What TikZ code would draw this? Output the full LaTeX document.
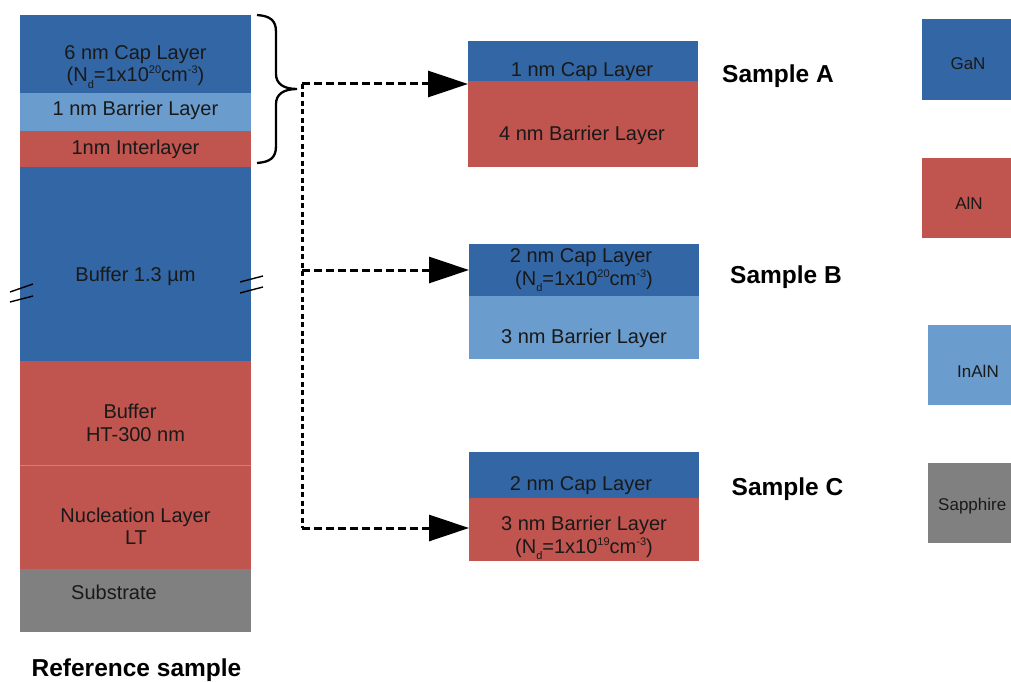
\documentclass[tikz,border=0pt]{standalone}
\usepackage{fontspec}
\setmainfont{Liberation Sans}
\usetikzlibrary{arrows.meta}
\definecolor{gan}{RGB}{51,102,165}
\definecolor{inaln}{RGB}{106,156,206}
\definecolor{aln}{RGB}{192,84,78}
\definecolor{sapph}{RGB}{128,128,128}
\newcommand{\lowd}{\raisebox{-6pt}{\fontsize{11}{11}\selectfont d}}
\newcommand{\hisup}[1]{\raisebox{8pt}{\fontsize{11}{11}\selectfont #1}}
\begin{document}
\begin{tikzpicture}[x=1pt,y=-1pt,
  layer/.style={rectangle, inner sep=0pt, outer sep=0pt, anchor=north west},
  lbl/.style={font=\fontsize{20}{22}\selectfont, inner sep=0pt, anchor=base, text=black!90},
  leg/.style={font=\fontsize{17}{20}\selectfont, inner sep=0pt, anchor=base, text=black!90},
  slbl/.style={font=\fontsize{24.5}{28}\selectfont\bfseries, inner sep=0pt, anchor=base},
  link/.style={line width=3pt, dash pattern=on 8pt off 4pt},
  vlink/.style={line width=3pt, dash pattern=on 5pt off 3.5pt},
  tip/.style={-{Triangle[length=40pt,width=26pt]}},
  brk/.style={line width=1.4pt}]
\useasboundingbox (0,0) rectangle (1011,682);
% ---------- reference sample ----------
\node[layer, fill=gan,   minimum width=231, minimum height=78]  (lcap) at (20,15) {};
\node[layer, fill=inaln, minimum width=231, minimum height=38]  (lbar) at (20,93) {};
\node[layer, fill=aln,   minimum width=231, minimum height=36]  (lint) at (20,131) {};
\node[layer, fill=gan,   minimum width=231, minimum height=194] (lbuf) at (20,167) {};
\node[layer, fill=aln,   minimum width=231, minimum height=104] (lht)  at (20,361) {};
\node[layer, fill=aln,   minimum width=231, minimum height=104] (lnuc) at (20,465) {};
\node[layer, fill=sapph, minimum width=231, minimum height=63]  (lsub) at (20,569) {};
\draw[aln!75!white, line width=0.8pt] (lnuc.north west) -- (lnuc.north east);
\node[lbl] (tcap1) at (135.5,60) {6 nm Cap Layer};
\node[lbl] (tcap2) at (135.5,82) {(N\lowd=1x10\hisup{20}cm\hisup{-3})};
\node[lbl] (tbar) at (135.5,116) {1 nm Barrier Layer};
\node[lbl] (tint) at (135.5,154) {1nm Interlayer};
\node[lbl] (tbuf) at (135.5,281) {Buffer 1.3 µm};
\node[lbl] (tht1) at (130,418) {Buffer};
\node[lbl] (tht2) at (135.5,441) {HT-300 nm};
\node[lbl] (tnuc1) at (135.5,522) {Nucleation Layer};
\node[lbl] (tnuc2) at (136,544) {LT};
\node[lbl] (tsub) at (114,599) {Substrate};
\node[slbl] (tref) at (136.5,676) {Reference sample};
% break marks
\draw[brk] (10,292) -- (33,284);
\draw[brk] (10,302) -- (33,296);
\draw[brk] (240,282) -- (263,276);
\draw[brk] (240,293) -- (263,287);
% brace
\coordinate (bt) at (257,15);
\coordinate (bb) at (257,163);
\coordinate (bp) at (297,89);
\draw[line width=2.3pt] (bt) .. controls (270,16) and (276,20) .. (276,32) -- (276,74)
  .. controls (276,84) and (284,89) .. (bp)
  .. controls (284,89) and (276,94) .. (276,104) -- (276,146)
  .. controls (276,158) and (270,162) .. (bb);
% ---------- sample A ----------
\node[layer, fill=gan, minimum width=230, minimum height=40] (acap) at (468,41) {};
\node[layer, fill=aln, minimum width=230, minimum height=86] (abar) at (468,81) {};
\node[lbl] (tacap) at (582,77) {1 nm Cap Layer};
\node[lbl] (tabar) at (582,140) {4 nm Barrier Layer};
\node[slbl] (sa) at (778,83) {Sample A};
% ---------- sample B ----------
\node[layer, fill=gan,   minimum width=230, minimum height=52] (bcap) at (469,244) {};
\node[layer, fill=inaln, minimum width=230, minimum height=63] (bbar) at (469,296) {};
\node[lbl] (tbcap1) at (581,262) {2 nm Cap Layer};
\node[lbl] (tbcap2) at (584,285) {(N\lowd=1x10\hisup{20}cm\hisup{-3})};
\node[lbl] (tbbar) at (584,343) {3 nm Barrier Layer};
\node[slbl] (sb) at (786,283) {Sample B};
% ---------- sample C ----------
\node[layer, fill=gan, minimum width=230, minimum height=46] (ccap) at (469,452) {};
\node[layer, fill=aln, minimum width=230, minimum height=63] (cbar) at (469,498) {};
\node[lbl] (tccap) at (581,490) {2 nm Cap Layer};
\node[lbl] (tcbar1) at (584,530) {3 nm Barrier Layer};
\node[lbl] (tcbar2) at (584,553) {(N\lowd=1x10\hisup{19}cm\hisup{-3})};
\node[slbl] (sc) at (787.5,495) {Sample C};
% ---------- connectors ----------
\coordinate (jA) at (302,84);
\coordinate (jB) at (302,270);
\coordinate (jC) at (302,528);
\draw[vlink] (jA) -- (jC);
\draw[link,tip] (jA) -- (jA -| abar.west);
\draw[link,tip] (jB) -- (jB -| bcap.west);
\draw[link,tip] (jC) -- (jC -| cbar.west);
% ---------- legend ----------
\node[layer, fill=gan,   minimum width=89, minimum height=81] (lg1) at (922,19) {};
\node[layer, fill=aln,   minimum width=89, minimum height=80] (lg2) at (922,158) {};
\node[layer, fill=inaln, minimum width=83, minimum height=80] (lg3) at (928,325) {};
\node[layer, fill=sapph, minimum width=83, minimum height=80] (lg4) at (928,463) {};
\node[leg] (tg1) at (968,70) {GaN};
\node[leg] (tg2) at (969,209) {AlN};
\node[leg] (tg3) at (978,377) {InAlN};
\node[leg, anchor=base west] (tg4) at (938,510) {Sapphire};
\end{tikzpicture}
\end{document}
